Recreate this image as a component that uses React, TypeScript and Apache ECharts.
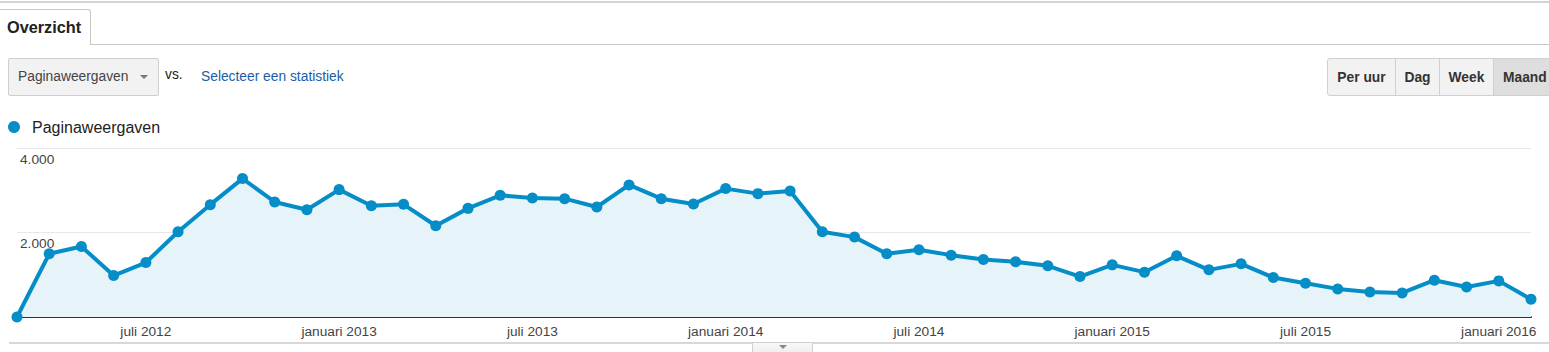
import React, { useEffect, useRef } from "react";
import * as echarts from "echarts";

const FONT = 'Arial, "Liberation Sans", sans-serif';

const months: string[] = [
  "maart 2012", "april 2012", "mei 2012", "juni 2012", "juli 2012", "augustus 2012",
  "september 2012", "oktober 2012", "november 2012", "december 2012", "januari 2013", "februari 2013",
  "maart 2013", "april 2013", "mei 2013", "juni 2013", "juli 2013", "augustus 2013",
  "september 2013", "oktober 2013", "november 2013", "december 2013", "januari 2014", "februari 2014",
  "maart 2014", "april 2014", "mei 2014", "juni 2014", "juli 2014", "augustus 2014",
  "september 2014", "oktober 2014", "november 2014", "december 2014", "januari 2015", "februari 2015",
  "maart 2015", "april 2015", "mei 2015", "juni 2015", "juli 2015", "augustus 2015",
  "september 2015", "oktober 2015", "november 2015", "december 2015", "januari 2016", "februari 2016",
];

const paginaweergaven: number[] = [
  0, 1496, 1669, 981, 1289, 2018, 2659, 3276, 2723, 2540, 3015, 2635,
  2666, 2160, 2571, 2880, 2817, 2801, 2604, 3126, 2801, 2675, 3039, 2920,
  2984, 2020, 1891, 1496, 1591, 1464, 1361, 1306, 1211, 957, 1234, 1061,
  1448, 1116, 1258, 933, 800, 665, 594, 570, 871, 712, 855, 420,
];

const yTicks: number[] = [0, 2000, 4000];
const seriesName = "Paginaweergaven";
const periodButtons: string[] = ["Per uur", "Dag", "Week", "Maand"];

function fmt(v: number): string {
  if (v === 0) return "";
  return String(v).replace(/\B(?=(\d{3})+(?!\d))/g, ".");
}

function Chart() {
  const ref = useRef<HTMLDivElement>(null);
  useEffect(() => {
    if (!ref.current) return;
    const chart = echarts.init(ref.current, undefined, { renderer: "svg" });
    chart.setOption({
      animation: false,
      textStyle: { fontFamily: FONT },
      legend: {
        left: 8,
        top: 119,
        padding: 0,
        icon: "circle",
        itemWidth: 12,
        itemHeight: 12,
        itemGap: 10,
        textStyle: { fontSize: 16, color: "#222", fontFamily: FONT, padding: [0, 0, 0, 7] },
        data: [seriesName],
      },
      grid: { left: 17, right: 18, top: 148, bottom: 35 },
      xAxis: {
        type: "category",
        data: months,
        boundaryGap: false,
        axisLine: { show: true, lineStyle: { color: "#333", width: 2 } },
        axisTick: { show: false },
        axisLabel: {
          interval: (i: number) => i % 6 === 4,
          color: "#444",
          fontSize: 13.7,
          margin: 7,
          fontFamily: FONT,
        },
        splitLine: { show: false },
      },
      yAxis: {
        type: "value",
        min: yTicks[0],
        max: yTicks[yTicks.length - 1],
        interval: yTicks[1] - yTicks[0],
        axisLine: { show: false },
        axisTick: { show: false },
        splitLine: { lineStyle: { color: "#e8e8e8", width: 1 } },
        axisLabel: {
          inside: true,
          margin: 3,
          verticalAlign: "top",
          padding: [4, 0, 0, 0],
          color: "#444",
          fontSize: 13.7,
          fontFamily: FONT,
          formatter: (v: number) => fmt(v),
        },
      },
      series: [
        {
          name: seriesName,
          type: "line",
          data: paginaweergaven,
          symbol: "circle",
          symbolSize: 11,
          showAllSymbol: true,
          color: "#058dc7",
          lineStyle: { color: "#058dc7", width: 4 },
          itemStyle: { color: "#058dc7" },
          areaStyle: { color: "#e6f3f9", opacity: 1 },
          z: 3,
        },
      ],
    });
    return () => chart.dispose();
  }, []);
  return (
    <div
      ref={ref}
      style={{ position: "absolute", left: 0, top: 0, width: 1549, height: 352 }}
    />
  );
}

export default function App() {
  const btnBounds = [
    [1327, 1395],
    [1395, 1439],
    [1439, 1493],
    [1493, 1560],
  ];
  return (
    <div
      style={{
        position: "absolute",
        left: 0,
        top: 0,
        width: 1549,
        height: 352,
        overflow: "hidden",
        background: "#fff",
        fontFamily: FONT,
      }}
    >
      <Chart />
      {/* top line */}
      <div style={{ position: "absolute", left: 0, top: 1, width: 1549, height: 2, background: "#d4d4d4" }} />
      {/* tab */}
      <div
        style={{
          position: "absolute",
          left: -1,
          top: 9,
          width: 92,
          height: 36,
          border: "1px solid #c8c8c8",
          borderBottom: "none",
          borderTopRightRadius: 3,
          background: "#fff",
          boxSizing: "border-box",
        }}
      />
      <div
        style={{
          position: "absolute",
          left: 7,
          top: 18,
          fontSize: 16.3,
          fontWeight: "bold",
          color: "#222",
          lineHeight: "18px",
        }}
      >
        Overzicht
      </div>
      <div style={{ position: "absolute", left: 91, top: 44, width: 1470, height: 1, background: "#c8c8c8" }} />
      {/* dropdown */}
      <div
        style={{
          position: "absolute",
          left: 8,
          top: 58,
          width: 151,
          height: 38,
          boxSizing: "border-box",
          border: "1px solid #cfcfcf",
          borderRadius: 2,
          background: "#f2f2f2",
        }}
      />
      <div style={{ position: "absolute", left: 18, top: 69, fontSize: 13.8, color: "#444", lineHeight: "16px" }}>
        Paginaweergaven
      </div>
      <div
        style={{
          position: "absolute",
          left: 140,
          top: 75,
          width: 0,
          height: 0,
          borderLeft: "4px solid transparent",
          borderRight: "4px solid transparent",
          borderTop: "4px solid #777",
        }}
      />
      <div style={{ position: "absolute", left: 165, top: 67, fontSize: 13.8, color: "#222", lineHeight: "16px" }}>vs.</div>
      <div style={{ position: "absolute", left: 201, top: 69, fontSize: 13.8, color: "#1a5da8", lineHeight: "16px" }}>
        Selecteer een statistiek
      </div>
      {/* period buttons */}
      {periodButtons.map((label, i) => {
        const [l, r] = btnBounds[i];
        const sel = i === periodButtons.length - 1;
        return (
          <div
            key={label}
            style={{
              position: "absolute",
              left: l,
              top: 58,
              width: r - l + 1,
              height: 38,
              boxSizing: "border-box",
              border: "1px solid #d0d0d0",
              borderTopLeftRadius: i === 0 ? 3 : 0,
              borderBottomLeftRadius: i === 0 ? 3 : 0,
              background: sel ? "#dedede" : "#f2f2f2",
              display: "flex",
              alignItems: "center",
              paddingLeft: sel ? 9 : 0,
              justifyContent: sel ? "flex-start" : "center",
              fontSize: 13.8,
              fontWeight: "bold",
              color: "#333",
            }}
          >
            {label}
          </div>
        );
      })}
      {/* bottom line and tab */}
      <div style={{ position: "absolute", left: 9, top: 342, width: 1545, height: 2, background: "#d8d8d8" }} />
      <div
        style={{
          position: "absolute",
          left: 752,
          top: 342,
          width: 61,
          height: 14,
          boxSizing: "border-box",
          border: "1px solid #d0d0d0",
          background: "linear-gradient(#f8f8f8, #ececec)",
        }}
      />
      <div
        style={{
          position: "absolute",
          left: 779,
          top: 345,
          width: 0,
          height: 0,
          borderLeft: "4px solid transparent",
          borderRight: "4px solid transparent",
          borderTop: "4px solid #888",
        }}
      />
    </div>
  );
}
